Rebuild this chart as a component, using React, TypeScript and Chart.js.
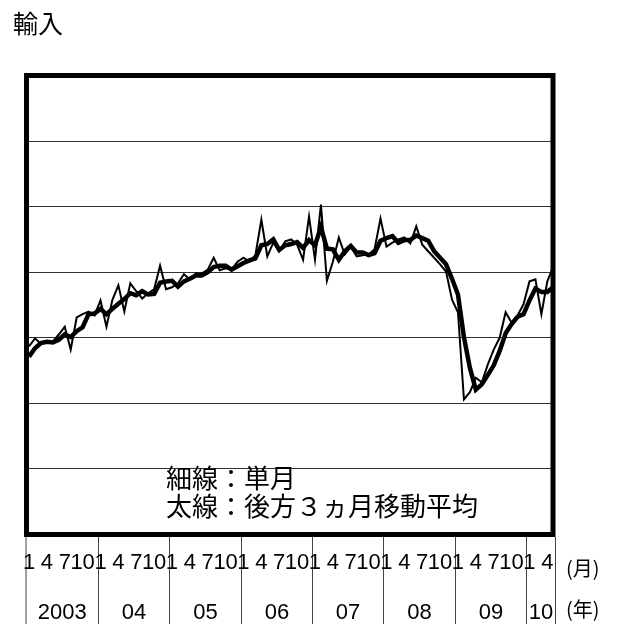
import { useEffect, useRef } from "react";
import { Chart, registerables } from "chart.js";

Chart.register(...registerables);

const title = "輸入";
const years = ["2003", "04", "05", "06", "07", "08", "09", "10"];
const monthTicks = ["1", "4", "7", "10"];
const noteLines = ["細線：単月", "太線：後方３ヵ月移動平均"];
const monthUnit = "(月)";
const yearUnit = "(年)";

// monthly values, Jan 2003 - May 2010 (thin line)
const monthly = [
  78.7, 79.9, 79.1, 79.3, 79.4, 80.5, 81.7, 78.2, 83.1, 83.6, 84.0, 83.4,
  85.7, 81.7, 85.8, 88.0, 84.0, 88.3, 87.1, 86.0, 86.8, 87.4, 91.0, 87.4,
  87.7, 88.3, 89.7, 88.9, 89.8, 89.8, 90.4, 92.2, 90.3, 90.6, 90.4, 91.6,
  92.2, 91.6, 92.6, 98.0, 92.4, 94.5, 93.2, 94.7, 95.0, 94.2, 91.9, 98.5,
  91.9, 100.3, 88.7, 91.6, 95.3, 92.7, 93.9, 92.4, 92.6, 92.7, 93.5, 98.2,
  93.9, 94.5, 95.0, 95.3, 94.4, 97.0, 94.2, 93.2, 92.2, 91.2, 90.1, 85.8,
  83.9, 70.6, 71.7, 73.9, 73.2, 75.9, 78.2, 80.0, 83.9, 82.3, 83.4, 85.1,
  88.6, 88.9, 83.6, 88.6, 90.9,
];

// trailing 3-month moving average (thick line)
const movingAvg = [
  77.1, 78.4, 79.2, 79.4, 79.3, 79.7, 80.5, 80.1, 81.0, 81.6, 83.6, 83.7,
  84.4, 83.6, 84.4, 85.2, 85.9, 86.8, 86.5, 87.1, 86.6, 86.7, 88.4, 88.6,
  88.7, 87.8, 88.6, 89.0, 89.5, 89.5, 90.0, 90.8, 91.0, 91.0, 90.4, 90.9,
  91.4, 91.8, 92.1, 94.1, 94.3, 95.0, 93.4, 94.1, 94.3, 94.6, 93.7, 94.9,
  94.1, 96.9, 93.6, 93.5, 91.9, 93.2, 94.0, 93.0, 93.0, 92.6, 92.9, 94.8,
  95.2, 95.5, 94.5, 94.9, 94.9, 95.6, 95.2, 94.8, 93.2, 92.2, 91.2, 89.0,
  86.6, 80.1, 75.4, 72.1, 72.9, 74.3, 75.8, 78.0, 80.7, 82.1, 83.2, 83.6,
  85.7, 87.5, 87.0, 87.0, 87.7,
];

const W = 618;
const H = 624;

const decor = {
  id: "decor",
  afterDraw(chart: any) {
    const { ctx, chartArea: a } = chart;
    const x = chart.scales.x;
    ctx.save();
    // plot frame
    ctx.strokeStyle = "#000";
    ctx.lineWidth = 5;
    ctx.strokeRect(a.left, a.top, a.right - a.left, a.bottom - a.top);

    ctx.fillStyle = "#000";
    ctx.textBaseline = "middle";
    ctx.textAlign = "left";
    ctx.font = '25px "Noto Sans CJK JP"';
    ctx.fillText(title, 13, 23);

    ctx.font = '26px "Noto Sans CJK JP"';
    ctx.fillText(noteLines[0], 166, 478);
    ctx.fillText(noteLines[1], 166, 506);

    // year separators
    const seps: number[] = [a.left - 0.5];
    for (let k = 1; k < years.length; k++) {
      seps.push(Math.round(x.getPixelForValue(12 * k - 0.5)) + 0.5);
    }
    seps.push(Math.round(a.right + 2) + 0.5);
    ctx.strokeStyle = "#444";
    ctx.lineWidth = 1;
    const top = a.bottom + 2.5;
    seps.forEach((sx) => {
      ctx.beginPath();
      ctx.moveTo(sx, top);
      ctx.lineTo(sx, H);
      ctx.stroke();
    });

    ctx.font = '22px "Liberation Sans"';
    ctx.textAlign = "center";
    for (let i = 0; i < monthly.length; i += 3) {
      ctx.fillText(monthTicks[(i / 3) % 4], x.getPixelForValue(i), 563);
    }
    years.forEach((yr, k) => {
      ctx.fillText(yr, (seps[k] + seps[k + 1]) / 2, 613);
    });

    ctx.font = '20px "Noto Sans CJK JP"';
    ctx.textAlign = "left";
    ctx.fillText(monthUnit, 566, 568);
    ctx.fillText(yearUnit, 566, 609);
    ctx.restore();
  },
};

export default function App() {
  const ref = useRef<HTMLCanvasElement>(null);
  useEffect(() => {
    if (!ref.current) return;
    const chart = new Chart(ref.current, {
      type: "line",
      data: {
        datasets: [
          {
            label: "単月",
            data: monthly.map((v, i) => ({ x: i, y: v })),
            borderColor: "#000",
            borderWidth: 2,
            pointRadius: 0,
            tension: 0,
          },
          {
            label: "後方3ヵ月移動平均",
            data: movingAvg.map((v, i) => ({ x: i, y: v })),
            borderColor: "#000",
            borderWidth: 4.5,
            pointRadius: 0,
            tension: 0,
          },
        ],
      },
      plugins: [decor],
      options: {
        animation: false,
        responsive: false,
        events: [],
        layout: { padding: { left: 26.5, right: W - 553, top: 75.5, bottom: H - 534.5 } },
        plugins: { legend: { display: false }, tooltip: { enabled: false }, title: { display: false } },
        scales: {
          x: { type: "linear", min: -0.42, max: 87.95, display: false },
          y: {
            min: 50,
            max: 120,
            ticks: { display: false, stepSize: 10 },
            grid: { color: "#333", lineWidth: 1, drawTicks: false },
            border: { display: false },
            afterFit: (s: any) => {
              s.width = 0;
            },
          },
        },
      },
    });
    return () => chart.destroy();
  }, []);
  return (
    <div style={{ position: "absolute", left: 0, top: 0, width: W, height: H, background: "#fff" }}>
      <canvas ref={ref} width={W} height={H} style={{ display: "block" }} />
    </div>
  );
}
